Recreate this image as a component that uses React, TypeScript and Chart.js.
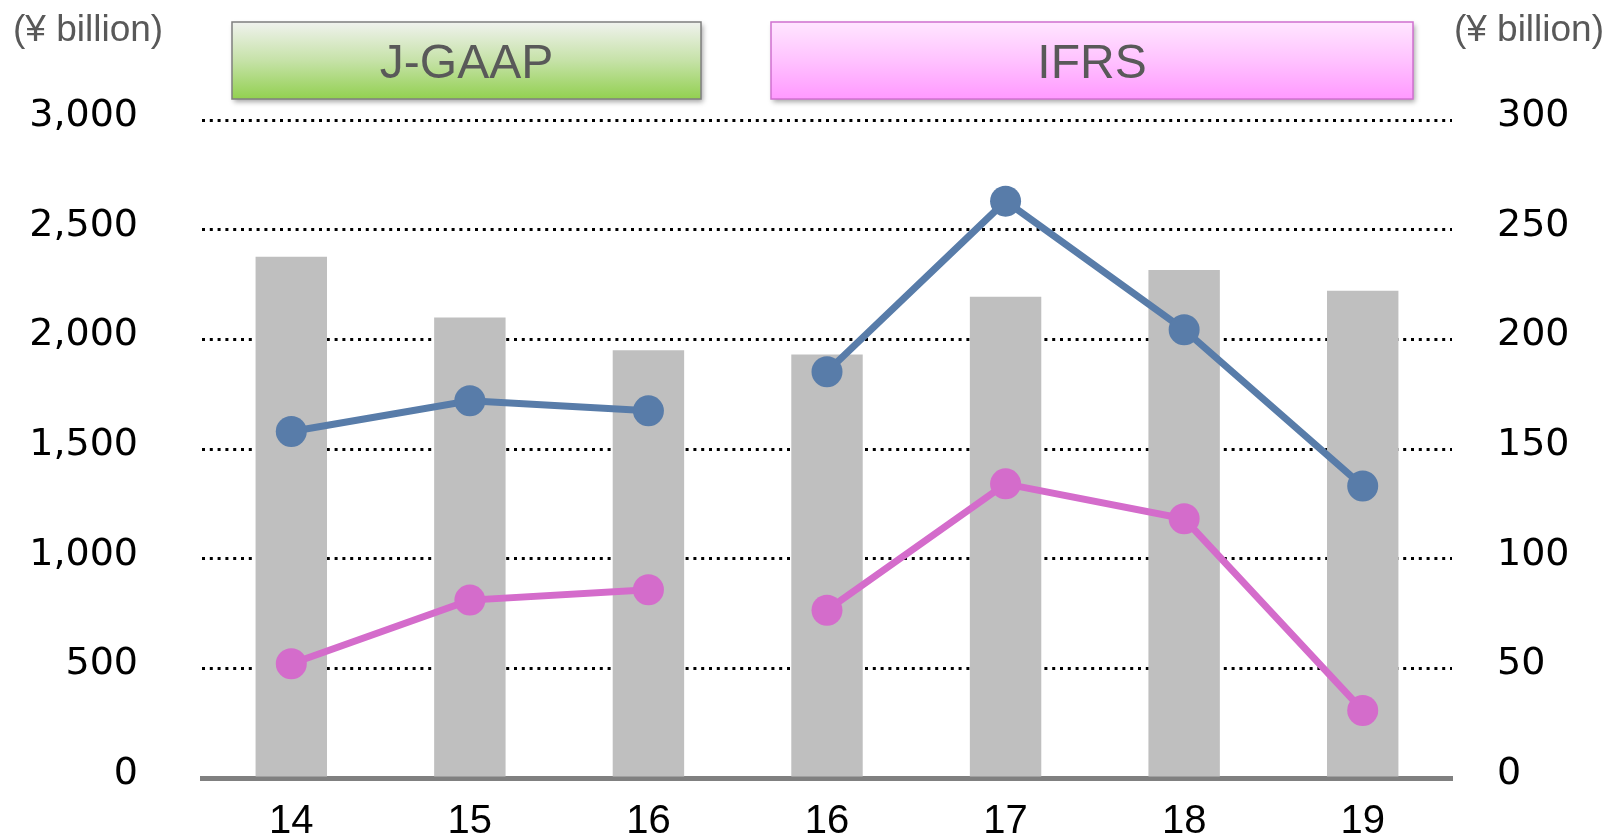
import React, { useEffect, useRef } from "react";
import { Chart, registerables } from "chart.js";

Chart.register(...registerables);

const categories = ["14", "15", "16", "16", "17", "18", "19"];
const barValues = [2376, 2100, 1950, 1931, 2194, 2316, 2222];
const blueValues = [158, 172, 167.4, 185.2, 263, 204.4, 133.1];
const pinkValues = [52.1, 81.1, 85.8, 76.5, 134.1, 118.2, 30.8];
const leftTicks = [0, 500, 1000, 1500, 2000, 2500, 3000];
const rightTicks = [0, 50, 100, 150, 200, 250, 300];
const unitLabel = "(¥ billion)";
const standards = ["J-GAAP", "IFRS"];

const W = 1610;
const H = 836;

const overlayPlugin = {
  id: "overlay",
  afterDraw(chart: any) {
    const ctx = chart.ctx as CanvasRenderingContext2D;
    ctx.save();
    ctx.fillStyle = "#595959";
    ctx.font = "37px 'Liberation Sans', Arial, sans-serif";
    ctx.textBaseline = "middle";
    ctx.textAlign = "left";
    ctx.fillText(unitLabel, 13, 31);
    ctx.textAlign = "right";
    ctx.fillText(unitLabel, 1604, 31);

    const boxes = [
      { x: 232, y: 22, w: 469, h: 77, stops: ["#F0F2EE", "#C6E2A8", "#92D050"], border: "#7F7F7F", text: standards[0] },
      { x: 771, y: 22, w: 642, h: 77, stops: ["#FFE6FF", "#FFC2FF", "#FF99FF"], border: "#D070D0", text: standards[1] },
    ];
    for (const b of boxes) {
      const g = ctx.createLinearGradient(0, b.y, 0, b.y + b.h);
      g.addColorStop(0, b.stops[0]);
      g.addColorStop(0.5, b.stops[1]);
      g.addColorStop(1, b.stops[2]);
      ctx.save();
      ctx.shadowColor = "rgba(0,0,0,0.35)";
      ctx.shadowBlur = 5;
      ctx.shadowOffsetX = 2;
      ctx.shadowOffsetY = 3;
      ctx.fillStyle = g;
      ctx.fillRect(b.x, b.y, b.w, b.h);
      ctx.restore();
      ctx.strokeStyle = b.border;
      ctx.lineWidth = 1.5;
      ctx.strokeRect(b.x, b.y, b.w, b.h);
      ctx.fillStyle = "#595959";
      ctx.font = "48px 'Liberation Sans', Arial, sans-serif";
      ctx.textAlign = "center";
      ctx.textBaseline = "middle";
      ctx.fillText(b.text, b.x + b.w / 2, b.y + b.h / 2 + 4);
    }
    ctx.restore();
  },
};

const noPad = (s: any) => {
  s.paddingTop = 0;
  s.paddingBottom = 0;
};

export default function App() {
  const ref = useRef<HTMLCanvasElement | null>(null);
  useEffect(() => {
    document.body.style.margin = "0";
    document.body.style.overflow = "hidden";
    if (!ref.current) return;
    const gap = (ctx: any) => (ctx.p0DataIndex === 2 ? "rgba(0,0,0,0)" : undefined);
    const chart = new Chart(ref.current, {
      type: "bar",
      data: {
        labels: categories,
        datasets: [
          {
            type: "line",
            data: blueValues,
            yAxisID: "y1",
            borderColor: "#587CA9",
            backgroundColor: "#587CA9",
            borderWidth: 7,
            pointRadius: 15.5,
            pointBorderWidth: 0,
            pointBackgroundColor: "#587CA9",
            segment: { borderColor: gap },
            order: 0,
          } as any,
          {
            type: "line",
            data: pinkValues,
            yAxisID: "y1",
            borderColor: "#D46CCB",
            backgroundColor: "#D46CCB",
            borderWidth: 7,
            pointRadius: 15.5,
            pointBorderWidth: 0,
            pointBackgroundColor: "#D46CCB",
            segment: { borderColor: gap },
            order: 0,
          } as any,
          {
            type: "bar",
            data: barValues,
            yAxisID: "y",
            backgroundColor: "#BFBFBF",
            barPercentage: 0.4,
            categoryPercentage: 1,
            order: 1,
          },
        ],
      },
      options: {
        responsive: false,
        animation: false,
        layout: { padding: { top: 120, left: 0, right: 0, bottom: 0 } },
        plugins: { legend: { display: false }, tooltip: { enabled: false } },
        scales: {
          x: {
            grid: { display: false },
            border: { display: true, color: "#808080", width: 5 },
            ticks: {
              color: "#000",
              padding: 12,
              font: { family: "Liberation Sans", size: 40, lineHeight: 1.2 },
            },
            afterFit: (s: any) => {
              s.height = 58;
            },
          },
          y: {
            position: "left",
            min: 0,
            max: 3000,
            afterBuildTicks: (s: any) => {
              s.ticks = leftTicks.map((v) => ({ value: v }));
            },
            grid: {
              drawTicks: false,
              color: (c: any) => (c.tick && c.tick.value === 0 ? "rgba(0,0,0,0)" : "#000"),
              lineWidth: 3,
            },
            border: { display: false, dash: [3, 4.8] },
            ticks: {
              color: "#000",
              padding: 64,
              font: { family: "'DejaVu Sans', Verdana, sans-serif", size: 38, lineHeight: "8px" } as any,
              callback: (v: any) => [Number(v).toLocaleString("en-US"), ""],
            },
            afterFit: (s: any) => {
              s.width = 202;
              noPad(s);
            },
          },
          y1: {
            position: "right",
            min: 0,
            max: 300,
            afterBuildTicks: (s: any) => {
              s.ticks = rightTicks.map((v) => ({ value: v }));
            },
            grid: { display: false, drawTicks: false },
            border: { display: false },
            ticks: {
              color: "#000",
              padding: 45,
              font: { family: "'DejaVu Sans', Verdana, sans-serif", size: 38, lineHeight: "8px" } as any,
              callback: (v: any) => [String(v), ""],
            },
            afterFit: (s: any) => {
              s.width = 158;
              noPad(s);
            },
          },
        },
      },
      plugins: [overlayPlugin],
    });
    return () => chart.destroy();
  }, []);
  return (
    <div style={{ width: W, height: H, position: "relative", background: "#fff" }}>
      <canvas ref={ref} width={W} height={H} style={{ display: "block" }} />
    </div>
  );
}
